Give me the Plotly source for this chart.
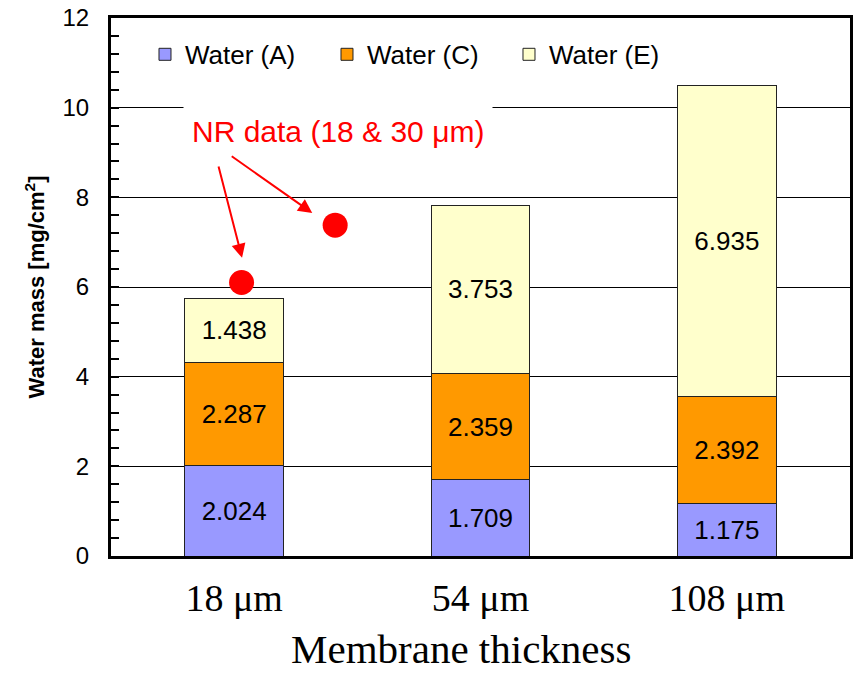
import plotly.graph_objects as go

categories = ["18 μm", "54 μm", "108 μm"]
water_a = [2.024, 1.709, 1.175]
water_c = [2.287, 2.359, 2.392]
water_e = [1.438, 3.753, 6.935]
series_names = ["Water (A)", "Water (C)", "Water (E)"]
series_colors = ["#9999FF", "#FF9900", "#FFFFCC"]

# NR data points (x as category-index position, y in mg/cm2)
nr_x = [0.03, 0.41]
nr_y = [6.10, 7.38]
nr_label = "NR data (18 & 30 μm)"
nr_label_pos = (0.42, 9.46)
# arrows: (tail_x, tail_y, tip_x, tip_y)
arrows = [(-0.065, 8.72, 0.032, 6.65), (-0.016, 8.94, 0.317, 7.65)]
x_title = "Membrane thickness"

xpos = list(range(len(categories)))

fig = go.Figure()
for name, vals, col in zip(series_names, [water_a, water_c, water_e], series_colors):
    fig.add_trace(go.Bar(
        x=xpos, y=vals, name=name, width=0.4,
        marker=dict(color=col, line=dict(color="#222222", width=1)),
        texttemplate="%{y:.3f}", textposition="inside", insidetextanchor="middle",
        textfont=dict(family="Liberation Sans", size=26, color="black"),
        constraintext="none", cliponaxis=False,
    ))

fig.add_trace(go.Scatter(
    x=nr_x, y=nr_y, mode="markers", showlegend=False,
    marker=dict(color="#FF0000", size=25, line=dict(width=0)),
))

annotations = [dict(
    x=nr_label_pos[0], y=nr_label_pos[1], xref="x", yref="y",
    text=nr_label, showarrow=False, bgcolor="white", borderpad=8,
    font=dict(family="Liberation Sans", size=30, color="#FF0000"),
)]
for tx, ty, hx, hy in arrows:
    annotations.append(dict(
        x=hx, y=hy, ax=tx, ay=ty, xref="x", yref="y", axref="x", ayref="y",
        text="", showarrow=True, arrowhead=2, arrowsize=1.4, arrowwidth=2,
        arrowcolor="#FF0000", standoff=0, startstandoff=0,
    ))
annotations.append(dict(
    x=0.474, y=-0.2175, xref="paper", yref="paper", xanchor="center", yanchor="bottom",
    text=x_title, showarrow=False, borderpad=0,
    font=dict(family="Liberation Serif", size=41, color="black"),
))

fig.update_layout(
    barmode="stack",
    width=853, height=674,
    margin=dict(l=111, r=3, t=18, b=118, autoexpand=False),
    paper_bgcolor="white", plot_bgcolor="white",
    showlegend=True,
    legend=dict(
        orientation="h", x=0.046, y=0.976, xanchor="left", yanchor="top",
        traceorder="normal", bgcolor="rgba(0,0,0,0)",
        font=dict(family="Liberation Sans", size=26, color="black"),
        entrywidth=137, entrywidthmode="pixels",
    ),
    annotations=annotations,
    xaxis=dict(
        range=[-0.5, 2.5], tickvals=xpos, ticktext=categories,
        showline=True, linewidth=3, linecolor="black", mirror=True,
        showgrid=False, ticks="", zeroline=False, automargin=False,
        tickfont=dict(family="Liberation Serif", size=38, color="black"),
        ticklabelstandoff=6,
    ),
    yaxis=dict(
        range=[0, 12], dtick=2, tick0=0,
        showline=True, linewidth=3, linecolor="black", mirror=True,
        showgrid=True, gridcolor="black", gridwidth=1, zeroline=False, automargin=False,
        ticks="inside", ticklen=8, tickwidth=2, tickcolor="black",
        minor=dict(dtick=0.4, ticks="inside", ticklen=8, tickwidth=2, tickcolor="black", showgrid=False),
        tickfont=dict(family="Liberation Sans", size=24, color="black"),
        ticklabelstandoff=14,
        title=dict(text="<b>Water mass [mg/cm<sup>2</sup>]</b>", standoff=12,
                   font=dict(family="Liberation Sans", size=22, color="black")),
    ),
)

fig.write_html("out.html", config={"displayModeBar": False},
               post_script="document.body.style.margin='0';")
